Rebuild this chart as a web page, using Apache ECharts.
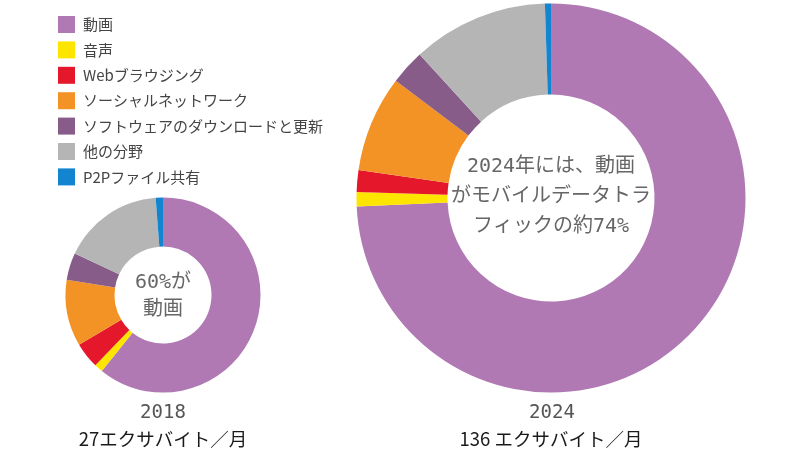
<!DOCTYPE html>
<html>
<head>
<meta charset="utf-8">
<script src="https://cdn.jsdelivr.net/npm/echarts@6/dist/echarts.min.js"></script>
<style>html,body{margin:0;padding:0;background:#fff;}#chart{width:800px;height:450px;}</style>
</head>
<body>
<div id="chart"></div>
<script>
const categories = ['動画', '音声', 'Webブラウジング', 'ソーシャルネットワーク', 'ソフトウェアのダウンロードと更新', '他の分野', 'P2Pファイル共有'];
const share2018 = [60.8, 1.4, 4.3, 11.0, 4.5, 16.8, 1.2];
const share2024 = [74.3, 1.2, 1.8, 8.0, 2.9, 11.3, 0.5];
const colors = ['#b079b3', '#fde500', '#e5182b', '#f39325', '#875c89', '#b5b5b5', '#1384d0'];
const centerText2018 = '60%が\n動画';
const centerText2024 = '2024年には、動画\nがモバイルデータトラ\nフィックの約74%';
const yearLabels = ['2018', '2024'];
const volumeLabels = ['27エクサバイト／月', '136 エクサバイト／月'];

const chart = echarts.init(document.getElementById('chart'), null, {renderer: 'canvas'});
const cjk = "'Noto Sans CJK JP', 'Noto Sans', sans-serif";
const mono = "'DejaVu Sans Mono', 'Noto Sans CJK JP', monospace";

function pieData(vals) {
  return categories.map((c, i) => ({name: c, value: vals[i], itemStyle: {color: colors[i]}}));
}

chart.setOption({
  animation: false,
  backgroundColor: '#ffffff',
  color: colors,
  legend: {
    orient: 'vertical',
    left: 58,
    top: 16,
    padding: 0,
    itemWidth: 17,
    itemHeight: 17,
    itemGap: 8.4,
    icon: 'rect',
    selectedMode: false,
    data: categories,
    textStyle: {fontFamily: cjk, fontSize: 15, color: '#444', padding: [0, 0, 0, 3]}
  },
  series: [
    {
      type: 'pie',
      center: [163, 295],
      radius: [48.5, 97.5],
      startAngle: 90,
      clockwise: true,
      label: {show: false},
      labelLine: {show: false},
      emphasis: {disabled: true},
      silent: true,
      data: pieData(share2018)
    },
    {
      type: 'pie',
      center: [551, 198],
      radius: [103.5, 194.5],
      startAngle: 90,
      clockwise: true,
      label: {show: false},
      labelLine: {show: false},
      emphasis: {disabled: true},
      silent: true,
      data: pieData(share2024)
    }
  ],
  graphic: [
    {type: 'text', x: 163, y: 296, style: {text: centerText2018, align: 'center', verticalAlign: 'middle', fontFamily: mono, fontSize: 20, lineHeight: 27, fill: '#666'}},
    {type: 'text', x: 551, y: 197, style: {text: centerText2024, align: 'center', verticalAlign: 'middle', fontFamily: mono, fontSize: 20, lineHeight: 30, fill: '#666'}},
    {type: 'text', x: 163, y: 413, style: {text: yearLabels[0], align: 'center', verticalAlign: 'middle', fontFamily: mono, fontSize: 19, fill: '#555'}},
    {type: 'text', x: 552, y: 413, style: {text: yearLabels[1], align: 'center', verticalAlign: 'middle', fontFamily: mono, fontSize: 19, fill: '#555'}},
    {type: 'text', x: 163, y: 439, style: {text: volumeLabels[0], align: 'center', verticalAlign: 'middle', fontFamily: cjk, fontSize: 18.5, fill: '#1a1a1a'}},
    {type: 'text', x: 551, y: 439, style: {text: volumeLabels[1], align: 'center', verticalAlign: 'middle', fontFamily: cjk, fontSize: 18.5, fill: '#1a1a1a'}}
  ]
});
</script>
</body>
</html>
